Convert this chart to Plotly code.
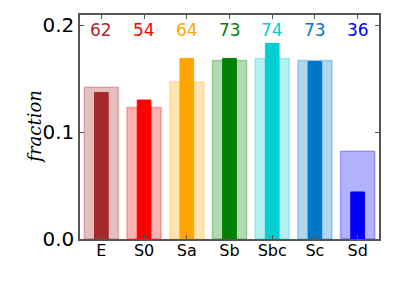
import plotly.graph_objects as go

categories = ["E", "S0", "Sa", "Sb", "Sbc", "Sc", "Sd"]
wide_values = [0.142, 0.123, 0.147, 0.167, 0.169, 0.167, 0.082]
narrow_values = [0.137, 0.130, 0.169, 0.169, 0.183, 0.166, 0.044]
counts = ["62", "54", "64", "73", "74", "73", "36"]
colors = ["#a52a2a", "#ff0000", "#ffa500", "#008000", "#00ced1", "#0077c8", "#0000ff"]

def rgba(h, a):
    h = h.lstrip("#")
    r, g, b = int(h[0:2], 16), int(h[2:4], 16), int(h[4:6], 16)
    return f"rgba({r},{g},{b},{a})"

fig = go.Figure()
fig.add_trace(go.Bar(
    x=categories, y=wide_values, width=0.8,
    marker=dict(color=[rgba(c, 0.3) for c in colors],
                line=dict(color=[rgba(c, 0.3) for c in colors], width=1.5)),
    showlegend=False, hoverinfo="skip"))
fig.add_trace(go.Bar(
    x=categories, y=narrow_values, width=0.32,
    marker=dict(color=colors, line=dict(color=colors, width=1)),
    showlegend=False, hoverinfo="skip"))

for c, n, col in zip(categories, counts, colors):
    fig.add_annotation(x=c, y=0.196, text=n, showarrow=False,
                       font=dict(family="DejaVu Sans", size=17, color=col),
                       xanchor="center", yanchor="middle")

fig.add_annotation(xref="paper", yref="paper", x=-0.155, y=0.5,
                   text="<i>fraction</i>", textangle=-90, showarrow=False,
                   xanchor="center", yanchor="middle",
                   font=dict(family="DejaVu Serif", size=18, color="black"))

fig.update_layout(
    width=391, height=291,
    margin=dict(l=72, r=20, t=7, b=60, autoexpand=False),
    paper_bgcolor="white", plot_bgcolor="white",
    barmode="overlay",
    xaxis=dict(range=[-0.5, 6.5], showgrid=False, showline=True, mirror="ticks",
               linecolor="#555555", linewidth=1.5, ticks="inside", ticklen=4,
               tickcolor="#555555", automargin=False, ticklabelstandoff=-4,
               tickfont=dict(family="DejaVu Sans", size=16, color="black")),
    yaxis=dict(range=[0, 0.2096], showgrid=False, showline=True, mirror="ticks",
               linecolor="#555555", linewidth=1.5, ticks="inside", ticklen=4,
               tickcolor="#555555", tickvals=[0.0, 0.1, 0.2], automargin=False,
               ticktext=["0.0", "0.1", "0.2"], zeroline=False,
               tickfont=dict(family="DejaVu Sans", size=20, color="black")),
)

fig.write_html("out.html")
